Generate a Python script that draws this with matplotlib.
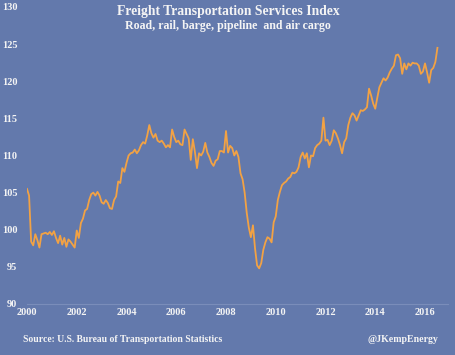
import matplotlib
matplotlib.use("Agg")
import matplotlib.pyplot as plt
import numpy as np

# Freight TSI, monthly from Jan 2000
tsi = [
    105.5, 104.6, 98.4, 97.9, 99.4, 98.6, 97.6, 99.4, 99.5, 99.6, 99.4, 99.7,       # 2000
    99.3, 99.8, 98.9, 98.2, 99.2, 98.0, 98.9, 97.7, 98.7, 98.4, 98.0, 97.6,         # 2001
    99.9, 98.9, 100.9, 101.5, 102.6, 102.8, 104.0, 104.8, 105.0, 104.6, 105.1, 104.6,  # 2002
    103.7, 103.5, 104.0, 103.6, 102.9, 102.8, 104.0, 104.5, 106.5, 106.3, 108.3, 107.8,  # 2003
    109.0, 110.0, 110.3, 110.4, 110.8, 110.3, 110.7, 111.4, 111.8, 111.6, 112.7, 114.1,  # 2004
    113.0, 112.4, 112.9, 112.0, 111.8, 112.0, 111.6, 111.1, 111.4, 111.1, 113.5, 112.5,  # 2005
    111.8, 112.0, 111.5, 111.4, 113.5, 112.9, 112.3, 109.4, 112.2, 110.5, 108.3, 110.3,  # 2006
    110.0, 110.5, 111.7, 110.4, 109.8, 109.0, 108.6, 109.3, 109.5, 110.6, 110.6, 110.4,  # 2007
    113.3, 110.4, 111.3, 111.0, 110.0, 110.6, 109.8, 107.6, 106.8, 105.0, 102.3, 100.3,  # 2008
    99.0, 100.6, 97.5, 95.2, 94.8, 95.5, 97.3, 98.3, 99.0, 98.8, 98.3, 101.0,        # 2009
    101.8, 104.0, 105.1, 106.0, 106.3, 106.5, 106.9, 107.1, 107.7, 107.6, 107.8, 108.4,  # 2010
    109.8, 110.4, 109.6, 110.3, 108.4, 110.0, 109.9, 111.0, 111.4, 111.6, 112.0, 115.1,  # 2011
    112.0, 112.1, 111.4, 112.0, 113.4, 113.0, 112.3, 111.4, 110.3, 111.8, 112.3, 114.1,  # 2012
    115.1, 115.7, 115.4, 114.7, 115.4, 116.1, 116.0, 116.2, 116.5, 119.0, 118.1, 117.0,  # 2013
    116.3, 117.8, 119.2, 119.8, 120.4, 120.1, 120.5, 121.2, 121.7, 122.1, 123.5, 123.6,  # 2014
    123.1, 121.0, 122.4, 121.6, 122.4, 122.1, 122.5, 122.4, 122.4, 122.1, 121.0, 121.3,  # 2015
    122.4, 121.2, 119.8, 121.5, 121.8, 122.6, 124.5,                                  # 2016
]
start_year = 2000
year_ticks = list(range(2000, 2017, 2))
y_ticks = list(range(90, 131, 5))

BG = "#6379ac"
TXT = "#f4f4f4"
SERIF = ["Liberation Serif", "DejaVu Serif"]

x = start_year + np.arange(len(tsi)) / 12.0

fig = plt.figure(figsize=(4.56, 3.55), dpi=100)
fig.patch.set_facecolor(BG)
ax = fig.add_axes([27 / 456, 51 / 355, 421 / 456, 297 / 355])
ax.set_facecolor(BG)

ax.plot(x, tsi, color="#f2a244", lw=1.3)

ax.set_xlim(2000, 2000 + 421 / 24.875)
ax.set_ylim(90, 130)
ax.set_xticks(year_ticks)
ax.set_xticklabels([str(t) for t in year_ticks])
ax.set_yticks(y_ticks)
ax.tick_params(length=0, labelsize=7.5, labelcolor=TXT)
ax.tick_params(axis="y", pad=7)
ax.tick_params(axis="x", pad=3)
for lab in ax.get_xticklabels() + ax.get_yticklabels():
    lab.set_family(SERIF)
    lab.set_fontweight("bold")

for s in ("top", "right", "left"):
    ax.spines[s].set_visible(False)
ax.spines["bottom"].set_color("#7a8dba")
ax.spines["bottom"].set_linewidth(0.8)

fig.text(0.5, 1 - 11 / 355, "Freight Transportation Services Index", ha="center", va="center",
         fontsize=9.8, fontweight="bold", color=TXT, family=SERIF)
fig.text(0.5, 1 - 26 / 355, "Road, rail, barge, pipeline  and air cargo", ha="center", va="center",
         fontsize=8.6, fontweight="bold", color=TXT, family=SERIF)
fig.text(23 / 456, 1 - 339 / 355, "Source: U.S. Bureau of Transportation Statistics", ha="left",
         va="center", fontsize=6.9, fontweight="bold", color=TXT, family=SERIF)
fig.text(438 / 456, 1 - 339 / 355, "@JKempEnergy", ha="right", va="center",
         fontsize=7.1, fontweight="bold", color=TXT, family=SERIF)

fig.savefig("out.png", dpi=100, facecolor=BG)
